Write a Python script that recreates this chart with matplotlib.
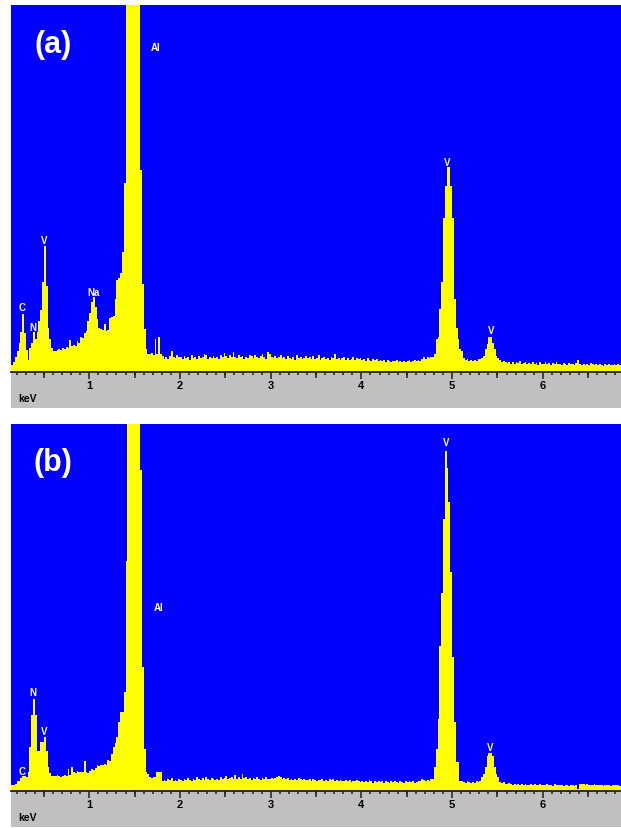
import numpy as np
import matplotlib
matplotlib.use('Agg')
import matplotlib.pyplot as plt

plt.rcParams['font.family'] = ['Liberation Sans', 'DejaVu Sans']

BIN_START = 0.14   # keV, left edge of first channel
BIN_WIDTH = 0.02   # keV per channel

# Spectrum (a): channel heights in % of plot height, channels start at 0.14 keV
counts_a = [
    2.0, 2.7, 4.0,                                              # 0.14
    5.8, 8.0, 11.0, 15.8, 10.5, 6.0, 3.2, 6.5, 7.8, 10.9,       # 0.20
    9.0, 11.0, 14.0, 17.0, 24.5, 34.4, 23.5, 12.0, 9.0, 6.5,    # 0.40
    5.8, 5.6, 6.0, 6.3, 6.0, 6.6, 6.4, 6.8, 6.5, 8.8,           # 0.60
    7.0, 7.4, 7.2, 8.5, 8.0, 9.5, 9.2, 10.5, 11.3, 14.0,        # 0.80
    16.0, 19.0, 20.4, 17.7, 14.4, 12.0, 11.7, 11.5, 13.0, 11.2, # 1.00
    11.5, 14.7, 15.0, 15.2, 20.0, 25.0, 25.5, 27.0, 32.7, 51.5, # 1.20
    150, 150, 150, 150, 150, 150, 150, 150, 55.0, 24.0,         # 1.40
    11.7, 6.3, 5.0, 4.8, 5.2, 4.5, 9.0, 5.0, 9.5, 5.0,          # 1.60
    4.4, 3.6, 4.2, 3.5, 4.4, 5.8, 4.0, 3.8, 4.5, 4.2,           # 1.80
    4.0, 3.6, 4.4, 3.8, 4.2, 3.4, 4.6, 3.9, 4.1, 3.5,           # 2.00
    4.3, 3.7, 4.0, 4.8, 4.5, 3.6, 4.2, 3.8, 4.4, 3.9,           # 2.20
    4.1, 3.5, 4.6, 4.0, 5.2, 4.3, 3.7, 4.5, 4.1, 5.5,           # 2.40
    4.2, 3.8, 4.7, 4.0, 4.4, 3.6, 4.1, 3.9, 4.6, 4.3,           # 2.60
    3.8, 4.5, 4.0, 3.7, 4.3, 4.9, 4.1, 3.6, 5.4, 4.8,           # 2.80
    4.2, 3.9, 4.4, 3.7, 4.1, 4.6, 3.8, 4.0, 3.5, 4.3,           # 3.00
    3.9, 3.6, 4.2, 3.4, 4.5, 3.8, 4.1, 3.5, 3.9, 4.4,           # 3.20
    3.7, 4.0, 3.5, 4.3, 3.6, 3.9, 4.5, 3.4, 3.8, 4.0,           # 3.40
    3.5, 3.9, 3.3, 4.1, 3.7, 4.8, 3.6, 3.9, 3.4, 3.7,           # 3.60
    4.0, 3.4, 3.8, 3.2, 3.6, 4.1, 3.3, 3.7, 3.5, 3.9,           # 3.80
    3.3, 3.6, 3.1, 3.8, 3.4, 3.0, 3.5, 3.2, 3.6, 3.1,           # 4.00
    3.4, 2.9, 3.2, 2.8, 3.3, 3.0, 2.7, 3.1, 2.9, 3.2,           # 4.20
    2.8, 3.1, 2.7, 3.0, 2.6, 2.9, 3.2, 2.8, 3.0, 3.3,           # 4.40
    3.0, 3.4, 3.1, 3.5, 4.0, 3.6, 4.1, 3.8, 4.0, 4.2,           # 4.60
    5.0, 9.0, 9.5, 17.2, 24.4, 42.0, 50.8, 55.8, 55.8, 50.8,    # 4.80
    42.0, 20.0, 12.0, 9.0, 6.3, 5.8, 3.8, 3.2, 3.6, 2.9,        # 5.00
    3.3, 3.0, 3.4, 3.1, 3.6, 3.5, 3.8, 4.4, 6.3, 7.6,           # 5.20
    9.5, 9.5, 8.0, 6.3, 4.4, 3.8, 3.2, 2.8, 3.0, 2.6,           # 5.40
    2.4, 2.8, 2.3, 2.6, 2.2, 2.7, 2.4, 2.9, 2.3, 2.5,           # 5.60
    2.6, 2.2, 2.5, 2.1, 2.7, 2.3, 2.4, 2.0, 2.6, 2.2,           # 5.80
    2.3, 2.6, 2.1, 2.4, 2.0, 2.5, 2.2, 2.7, 2.1, 2.3,           # 6.00
    2.0, 2.4, 2.2, 1.9, 2.5, 2.1, 2.3, 2.0, 2.4, 3.4,           # 6.20
    2.2, 2.0, 2.3, 1.8, 2.2, 1.9, 2.4, 2.1, 1.8, 2.2,           # 6.40
    1.9, 2.3, 2.0, 1.7, 2.2, 1.9, 2.1, 1.8, 2.0, 2.3,           # 6.60
    1.9, 2.1, 1.8,                                              # 6.80
]

# Spectrum (b)
counts_b = [
    1.5, 1.5, 1.8,                                              # 0.14
    2.8, 2.8, 3.5, 4.2, 4.2, 3.8, 5.2, 12.0, 20.7, 25.0,        # 0.20
    20.7, 11.0, 10.8, 13.4, 13.4, 14.6, 11.0, 6.5, 5.0, 4.2,    # 0.40
    4.2, 4.0, 4.3, 4.2, 3.9, 4.2, 4.4, 4.1, 6.0, 4.3,           # 0.60
    6.6, 5.2, 5.0, 5.4, 5.1, 5.3, 5.2, 8.3, 5.2, 5.0,           # 0.80
    5.4, 6.0, 5.8, 6.2, 7.0, 6.8, 7.2, 7.0, 7.3, 7.0,           # 1.00
    8.4, 8.2, 10.0, 12.0, 13.0, 14.6, 18.9, 21.5, 21.5, 26.9,   # 1.20
    62.8, 150, 150, 150, 150, 150, 150, 150, 87.6, 33.7,        # 1.40
    11.4, 5.1, 4.6, 3.8, 3.6, 3.9, 3.7, 5.1, 5.1, 5.2,          # 1.60
    2.8, 3.1, 2.6, 3.3, 2.9, 3.5, 2.8, 3.0, 2.7, 3.2,           # 1.80
    3.0, 2.7, 3.3, 2.9, 3.6, 3.1, 2.8, 3.4, 3.0, 3.7,           # 2.00
    3.2, 2.9, 3.5, 3.1, 3.8, 3.3, 3.0, 3.6, 3.2, 2.9,           # 2.20
    3.4, 3.1, 3.9, 3.3, 3.6, 4.2, 3.2, 3.5, 3.9, 3.3,           # 2.40
    4.4, 3.4, 3.7, 3.2, 4.5, 3.5, 3.8, 3.3, 3.6, 3.1,           # 2.60
    3.5, 3.2, 3.8, 3.4, 3.1, 3.6, 3.3, 3.9, 3.4, 3.2,           # 2.80
    3.6, 3.3, 3.5, 3.8, 4.0, 3.7, 3.4, 3.6, 3.2, 3.5,           # 3.00
    3.1, 3.4, 3.0, 3.3, 2.9, 3.5, 3.2, 3.0, 3.4, 3.1,           # 3.20
    2.9, 3.2, 2.8, 3.3, 3.0, 2.7, 3.1, 2.9, 3.3, 2.8,           # 3.40
    3.0, 2.7, 3.2, 2.9, 3.4, 2.8, 3.1, 2.6, 3.0, 2.8,           # 3.60
    2.6, 2.9, 2.7, 3.1, 2.5, 2.8, 2.6, 3.0, 2.7, 2.5,           # 3.80
    2.8, 2.5, 2.7, 2.4, 2.9, 2.6, 2.3, 2.7, 2.5, 2.8,           # 4.00
    2.4, 2.6, 2.3, 2.7, 2.5, 2.2, 2.6, 2.4, 2.8, 2.5,           # 4.20
    2.3, 2.6, 2.4, 2.2, 2.7, 2.5, 2.8, 2.4, 2.6, 2.3,           # 4.40
    2.5, 2.8, 2.6, 3.3, 2.9, 2.7, 3.0, 2.8, 3.2, 3.3,           # 4.60
    6.5, 11.4, 19.6, 39.6, 54.0, 74.0, 92.7, 88.0, 78.7, 59.6,  # 4.80
    36.4, 18.7, 7.8, 7.8, 2.8, 2.8, 2.5, 2.3, 2.6, 2.4,         # 5.00
    2.2, 2.5, 2.3, 2.6, 2.4, 2.7, 3.7, 4.5, 6.5, 9.6,           # 5.20
    10.4, 10.4, 9.6, 6.5, 4.5, 3.7, 2.5, 2.2, 2.4, 2.0,         # 5.40
    1.9, 2.1, 1.8, 1.7, 2.0, 1.6, 1.9, 1.7, 1.8, 1.6,           # 5.60
    1.9, 1.7, 1.6, 1.8, 1.5, 1.9, 1.7, 1.6, 1.8, 1.5,           # 5.80
    1.7, 1.6, 1.9, 1.5, 1.7, 1.4, 1.8, 1.6, 1.5, 1.7,           # 6.00
    1.6, 1.4, 1.7, 1.5, 1.3, 1.6, 1.5, 1.4, 1.6, 0.5,           # 6.20
    2.0, 1.8, 1.9, 1.6, 1.8, 1.5, 1.7, 1.6, 1.8, 1.5,           # 6.40
    1.7, 1.5, 1.6, 1.4, 1.7, 1.5, 1.6, 1.4, 1.5, 1.7,           # 6.60
    1.5, 1.6, 1.4,                                              # 6.80
]

# Peak labels: (text, energy keV, height %)
labels_a_text = ['C', 'N', 'V', 'Na', 'Al', 'V', 'V']
labels_a_x = [0.265, 0.383, 0.504, 1.044, 1.732, 4.951, 5.429]
labels_a_y = [17.6, 12.2, 36.0, 21.9, 88.5, 57.1, 11.5]

labels_b_text = ['C', 'N', 'V', 'Al', 'V', 'V']
labels_b_x = [0.255, 0.383, 0.504, 1.760, 4.940, 5.418]
labels_b_y = [5.5, 26.9, 16.4, 50.1, 95.0, 11.9]

tick_values = [1, 2, 3, 4, 5, 6]
tick_labels = ['1', '2', '3', '4', '5', '6']
half_ticks = [0.5, 1.5, 2.5, 3.5, 4.5, 5.5, 6.5]
axis_unit = 'keV'
panel_letters = ['(a)', '(b)']

XMIN, XMAX = 0.137, 6.862
BLUE = '#0000ff'
YELLOW = '#ffff00'
GREY = '#c0c0c0'

W, H = 621, 829
fig = plt.figure(figsize=(W / 100, H / 100), dpi=100)
fig.patch.set_facecolor('white')


def rect(x0, y0, x1, y1):
    return [x0 / W, 1 - y1 / H, (x1 - x0) / W, (y1 - y0) / H]


panels = [
    dict(counts=counts_a, top=6, axis=373, bottom=409, letter=panel_letters[0],
         lt=labels_a_text, lx=labels_a_x, ly=labels_a_y, letter_y=45),
    dict(counts=counts_b, top=425, axis=792, bottom=828, letter=panel_letters[1],
         lt=labels_b_text, lx=labels_b_x, ly=labels_b_y, letter_y=463),
]

px = 0.72  # points per pixel at 100 dpi

for p in panels:
    axg = fig.add_axes(rect(11, p['axis'], 621, p['bottom']))
    axg.set_facecolor(GREY)
    axg.set_xticks([])
    axg.set_yticks([])
    for s in axg.spines.values():
        s.set_visible(False)

    ax = fig.add_axes(rect(11, p['top'], 621, p['axis']))
    ax.set_facecolor(BLUE)
    counts = np.array(p['counts'], dtype=float)
    edges = BIN_START + BIN_WIDTH * np.arange(len(counts) + 1)
    ax.stairs(counts, edges, fill=True, color=YELLOW, linewidth=0)
    ax.set_xlim(XMIN, XMAX)
    ax.set_ylim(0, 100)
    ax.set_yticks([])
    for side in ['top', 'left', 'right']:
        ax.spines[side].set_visible(False)
    ax.spines['bottom'].set_color('#202020')
    ax.spines['bottom'].set_linewidth(1.3)

    ax.set_xticks(tick_values)
    ax.set_xticklabels(tick_labels)
    ax.set_xticks(np.round(np.arange(0.2, 6.85, 0.1), 2), minor=True)
    ax.tick_params(axis='x', which='major', direction='out', length=7 * px,
                   width=1.1, color='#202020', labelsize=8, pad=1.0,
                   labelcolor='black')
    ax.tick_params(axis='x', which='minor', direction='out', length=3 * px,
                   width=1.1, color='#202020')
    for lab in ax.get_xticklabels():
        lab.set_fontweight('bold')

    sec = ax.secondary_xaxis('bottom')
    sec.set_xticks(half_ticks)
    sec.tick_params(axis='x', direction='out', length=5.5 * px, width=1.1,
                    color='#202020', labelbottom=False)
    sec.spines['bottom'].set_visible(False)

    for t, x, y in zip(p['lt'], p['lx'], p['ly']):
        ax.text(x, y, t, color='white', fontsize=7, fontweight='bold',
                ha='center', va='center')

    fig.text(53 / W, 1 - p['letter_y'] / H, p['letter'], color='white',
             fontsize=22, fontweight='bold', ha='center', va='center')
    fig.text(18 / W, 1 - (p['axis'] + 26) / H, axis_unit, color='black',
             fontsize=7.5, fontweight='bold', ha='left', va='center')

fig.savefig('out.png', dpi=100, facecolor='white')
